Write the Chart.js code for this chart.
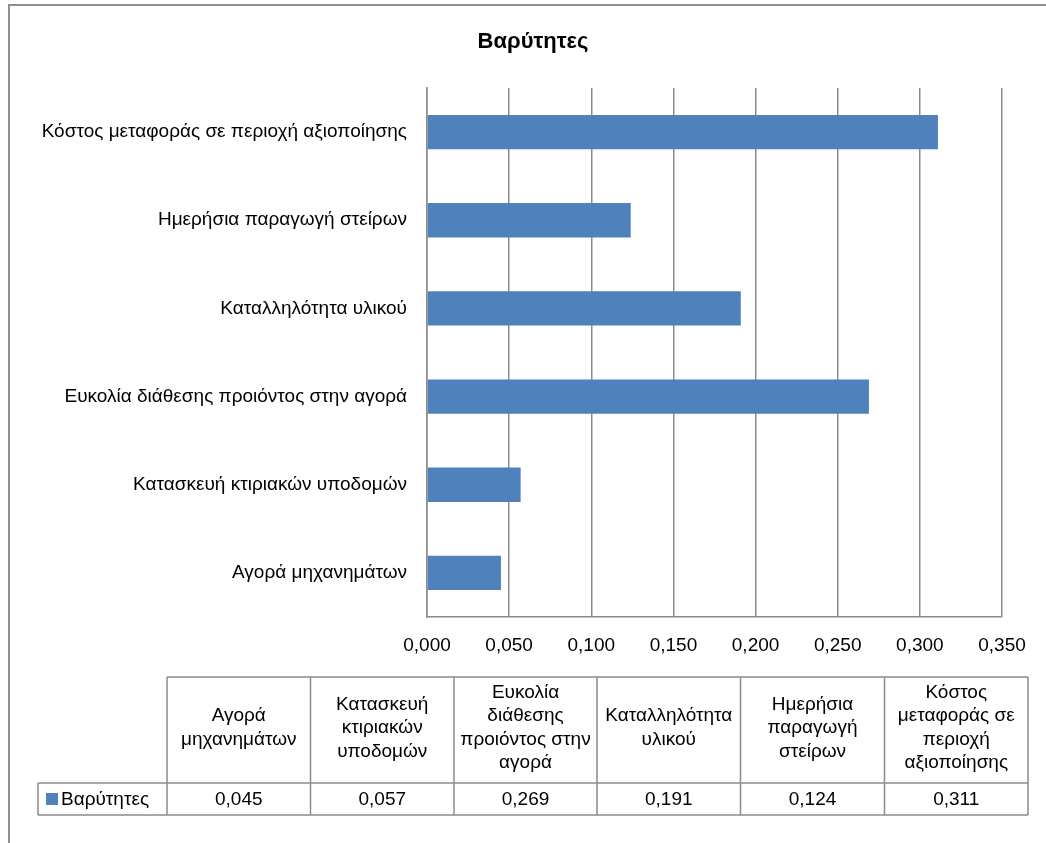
<!DOCTYPE html>
<html>
<head>
<meta charset="utf-8">
<script src="https://cdn.jsdelivr.net/npm/chart.js@4/dist/chart.umd.min.js"></script>
<style>
    body { margin: 0; background: #fff; overflow: hidden; }
    #wrap { position: absolute; left: 0; top: 0; width: 1046px; height: 843px; }
</style>
</head>
<body>
<div id="wrap"><canvas id="chart" width="1046" height="843"></canvas></div>
<script>
// data
var categories = ['Αγορά μηχανημάτων', 'Κατασκευή κτιριακών υποδομών', 'Ευκολία διάθεσης προιόντος στην αγορά',
    'Καταλληλότητα υλικού', 'Ημερήσια παραγωγή στείρων', 'Κόστος μεταφοράς σε περιοχή αξιοποίησης'];
var weights = [0.045, 0.057, 0.269, 0.191, 0.124, 0.311];
var seriesName = 'Βαρύτητες';
var chartTitle = 'Βαρύτητες';
var axisMin = 0, axisMax = 0.35, axisStep = 0.05;
// header text of the data table, already split in lines
var tableHeaders = [
    ['Αγορά', 'μηχανημάτων'],
    ['Κατασκευή', 'κτιριακών', 'υποδομών'],
    ['Ευκολία', 'διάθεσης', 'προιόντος στην', 'αγορά'],
    ['Καταλληλότητα', 'υλικού'],
    ['Ημερήσια', 'παραγωγή', 'στείρων'],
    ['Κόστος', 'μεταφοράς σε', 'περιοχή', 'αξιοποίησης']
];

var FONT = 'Liberation Sans';
var FONT_SIZE = 19;
var barColor = '#4F81BD';
var lineColor = '#8c8c8c';

function fmt(v) {
    return Number(v).toFixed(3).replace('.', ',');
}

// outer frame, title (centred on the whole frame, not the plot) and data table
var tablePlugin = {
    id: 'dataTable',
    beforeDraw: function (chart) {
        var ctx = chart.ctx;
        ctx.save();
        ctx.strokeStyle = '#8e8e8e';
        ctx.lineWidth = 2;
        ctx.strokeRect(9, 5, 2000, 2000);

        ctx.fillStyle = '#000';
        ctx.font = 'bold 22px "' + FONT + '"';
        ctx.textAlign = 'center';
        ctx.textBaseline = 'middle';
        ctx.fillText(chartTitle, 533, 42);
        ctx.restore();
    },
    afterDraw: function (chart) {
        var ctx = chart.ctx;
        var left0 = 38;
        var cols = [167, 310.5, 454, 597, 740.5, 884.5, 1028];
        var top = 677, mid = 783, bottom = 815;
        var lh = 23.5;

        ctx.save();
        ctx.strokeStyle = lineColor;
        ctx.lineWidth = 1.5;
        ctx.beginPath();
        ctx.moveTo(cols[0], top); ctx.lineTo(cols[6], top);
        ctx.moveTo(left0, mid); ctx.lineTo(cols[6], mid);
        ctx.moveTo(left0, bottom); ctx.lineTo(cols[6], bottom);
        ctx.moveTo(left0, mid); ctx.lineTo(left0, bottom);
        for (var i = 0; i < cols.length; i++) {
            ctx.moveTo(cols[i], top);
            ctx.lineTo(cols[i], bottom);
        }
        ctx.stroke();

        ctx.fillStyle = '#000';
        ctx.font = FONT_SIZE + 'px "' + FONT + '"';
        ctx.textAlign = 'center';
        ctx.textBaseline = 'middle';
        for (var c = 0; c < tableHeaders.length; c++) {
            var lines = tableHeaders[c];
            var cx = (cols[c] + cols[c + 1]) / 2;
            var y0 = (top + mid) / 2 - 2 - (lines.length - 1) * lh / 2;
            for (var l = 0; l < lines.length; l++) {
                ctx.fillText(lines[l], cx, y0 + l * lh);
            }
            ctx.fillText(fmt(weights[c]), cx, (mid + bottom) / 2 + 1);
        }

        ctx.fillStyle = barColor;
        ctx.fillRect(46, 793, 12, 12);
        ctx.fillStyle = '#000';
        ctx.textAlign = 'left';
        ctx.fillText(seriesName, 61, (mid + bottom) / 2 + 1);
        ctx.restore();
    }
};

var ctx = document.getElementById('chart').getContext('2d');
window.chart = new Chart(ctx, {
    type: 'bar',
    data: {
        labels: categories,
        datasets: [{
            label: seriesName,
            data: weights,
            backgroundColor: barColor,
            borderWidth: 0,
            barPercentage: 0.39,
            categoryPercentage: 1
        }]
    },
    options: {
        indexAxis: 'y',
        responsive: false,
        animation: false,
        devicePixelRatio: 1,
        layout: {
            padding: { left: 15, right: 44, top: 88, bottom: 186 }
        },
        plugins: {
            legend: { display: false },
            tooltip: { enabled: false },
            title: { display: false }
        },
        scales: {
            x: {
                min: axisMin,
                max: axisMax,
                ticks: {
                    stepSize: axisStep,
                    color: '#000',
                    padding: 17,
                    font: { family: FONT, size: FONT_SIZE },
                    callback: function (v) { return fmt(v); }
                },
                grid: { color: lineColor, lineWidth: 1.5, drawTicks: false },
                border: { color: lineColor, width: 1.5 },
                afterFit: function (scale) { scale.height = 40; }
            },
            y: {
                reverse: true,
                ticks: {
                    color: '#000',
                    padding: 20,
                    font: { family: FONT, size: FONT_SIZE }
                },
                grid: { display: false, drawTicks: false },
                border: { color: lineColor, width: 1.5 },
                afterFit: function (scale) { scale.width = 412; }
            }
        }
    },
    plugins: [tablePlugin]
});
</script>
</body>
</html>
